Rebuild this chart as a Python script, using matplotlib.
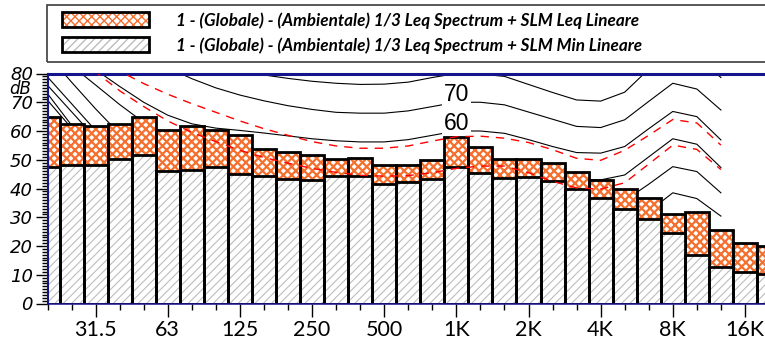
import numpy as np
import matplotlib.pyplot as plt
from matplotlib.patches import Patch, Rectangle
from matplotlib.legend_handler import HandlerTuple

# bande 1/3 di ottava
bands = ['20', '25', '31.5', '40', '50', '63', '80', '100', '125', '160', '200', '250',
         '315', '400', '500', '630', '800', '1K', '1.25K', '1.6K', '2K', '2.5K', '3.15K',
         '4K', '5K', '6.3K', '8K', '10K', '12.5K', '16K', '20K']
shown = ['31.5', '63', '125', '250', '500', '1K', '2K', '4K', '8K', '16K']

# spettri (dB)
leq = [64.7, 62.6, 61.7, 62.4, 64.7, 60.2, 61.6, 60.4, 58.6, 53.9, 52.6, 51.8, 50.1,
       50.7, 48.2, 48.3, 49.9, 57.8, 54.3, 50.2, 50.2, 48.9, 45.7, 42.8, 40.0, 36.7,
       31.2, 31.7, 25.4, 21.1, 19.9]
lmin = [47.5, 48.1, 48.3, 50.1, 51.8, 46.1, 46.5, 47.6, 45.0, 44.3, 43.4, 42.9, 44.2,
        44.5, 41.6, 42.4, 43.4, 47.6, 45.4, 43.7, 44.0, 42.7, 39.9, 36.6, 32.9, 29.3,
        24.5, 17.0, 12.6, 10.8, 10.3]

# curve isofoniche (20 Hz - 12.5 kHz)
phon_0 = [70.7, 61, 54, 47, 40, 34, 27.5, 21.5, 16.5, 12.5, 9.5, 7, 5, 3.5, 2.5, 1.5, 0.8,
          0, 0, -0.7, -2.2, -4.5, -6.5, -7, -4, 2, 8.5, 7, 1]
phon_10 = [73, 62, 56, 49.5, 42, 35, 29, 24, 20, 17, 15, 13.5, 12, 11, 10.5, 10, 10,
           10, 10, 9.3, 7.8, 5.5, 3.5, 3, 6, 12, 18.5, 17, 11]
phon_20 = [75.9, 66.7, 57.5, 50, 42.5, 36, 31, 27, 24, 22, 20.8, 19.8, 19, 18.5, 18.3,
           18.5, 19.2, 20, 20, 19.3, 17.8, 15.5, 13.5, 13, 16, 22, 28.5, 27, 21]
phon_30 = [78.8, 69.5, 60.2, 52, 45, 39.5, 35.5, 32.5, 30.5, 29.5, 28.8, 28.2, 27.8,
           27.5, 27.5, 28, 29, 30, 30, 29.3, 27.8, 25.5, 23.5, 23, 26, 32, 38.5, 36.5, 30.4]
phon_40 = [86.6, 77, 67.7, 59, 52, 47, 44, 42, 40.5, 39.5, 38.8, 38.2, 37.8, 37.5, 37.5,
           38, 39, 40, 40, 39.3, 37.8, 35.5, 33.5, 33, 35.8, 41.5, 47.6, 45.9, 38.5]
phon_50 = [89.5, 82.7, 76, 69.2, 63, 58.5, 55.5, 53.5, 52, 50.5, 49.3, 48.3, 47.5, 47,
           47, 47.8, 48.8, 50, 50, 49.3, 47.5, 45.3, 43.2, 43, 44.7, 51, 57.3, 55.4, 47.3]
phon_60 = [92, 87, 81.3, 75.5, 70, 65.5, 62.5, 61, 60.2, 59.3, 58.3, 57.3, 56.6, 56.2,
           56.2, 57, 58.5, 60, 60, 59.2, 57, 54.6, 52.5, 52.3, 54.6, 60.8, 66.8, 65, 56.9]
phon_70 = [100, 96, 92, 88.5, 85, 82, 78.2, 75, 72.5, 70.5, 68.8, 67.5, 66.5, 66.2, 66.2,
           67, 68.5, 70, 70, 69.1, 66.6, 64.1, 61.6, 61.2, 63.9, 70.3, 76.6, 74.6, 67.3]
phon_80 = [110, 106, 102, 98, 94, 90, 87, 84, 81.5, 79.5, 78.3, 77.3, 76.6, 76.2, 76.3,
           77, 78.6, 80, 79.8, 79, 76.2, 73.4, 70.8, 70.4, 73.5, 81.5, 87, 86, 78.6]
# isofoniche dello spettro (tratteggio rosso)
red_leq = [95, 90, 85.5, 80.8, 76.5, 72.8, 69.5, 66.5, 63.5, 60.8, 58.5, 56.3, 54.8, 54,
           54, 54.8, 56.5, 58, 58.2, 57.5, 56, 53.5, 50.5, 49.8, 53.3, 58.5, 64, 62.8, 55.1]
red_min = [95, 88, 80.5, 74, 68.5, 63.5, 59.5, 56.3, 53.3, 50.8, 48.8, 47, 45.6, 44.6,
           44.3, 44.5, 45.5, 47, 47.8, 47.8, 45.5, 42.5, 40.2, 39.8, 42, 48.5, 55.1, 53.6, 46.6]

navy = '#14148c'
orange = '#f5702e'
gray = '#bdbdbd'


def hatched(bars, lw):
    for b in bars:
        if hasattr(b, 'set_hatch_linewidth'):
            b.set_hatch_linewidth(lw)


fig = plt.figure(figsize=(7.65, 3.45), dpi=100)
ax = fig.add_axes([47.5 / 765, 41.5 / 345, 721.5 / 765, 230 / 345])

x = np.arange(len(bands))
xc = x[:len(phon_60)]

for c in [phon_0, phon_10, phon_20, phon_30, phon_40, phon_50, phon_60, phon_70, phon_80]:
    ax.plot(xc, c, color='black', lw=0.8, zorder=1)

ax.text(17, 72.6, '70', ha='center', va='center', fontsize=16.5, family='Liberation Sans',
        bbox=dict(fc='white', ec='none', pad=1.5), zorder=1.5)
ax.text(17, 62.6, '60', ha='center', va='center', fontsize=16.5, family='Liberation Sans',
        bbox=dict(fc='white', ec='none', pad=1.5), zorder=1.5)

with plt.rc_context({'hatch.linewidth': 1.6}):
    b1 = ax.bar(x, leq, width=1, color='white', edgecolor=orange, hatch='xxxx', lw=0, zorder=2)
    hatched(b1, 1.6)
ax.bar(x, leq, width=1, fill=False, edgecolor='black', lw=2, zorder=2.1)
with plt.rc_context({'hatch.linewidth': 0.8}):
    b2 = ax.bar(x, lmin, width=1, color='white', edgecolor=gray, hatch='////', lw=0, zorder=2.2)
    hatched(b2, 0.8)
ax.bar(x, lmin, width=1, fill=False, edgecolor='black', lw=2, zorder=2.3)

ax.plot(xc, red_leq, color='red', lw=1, ls=(0, (6, 5)), zorder=3)
ax.plot(xc, red_min, color='red', lw=1, ls=(0, (6, 5)), zorder=3)

ax.set_xlim(0, 30)
ax.set_ylim(0, 80)

ax.set_xticks([bands.index(b) for b in shown])
ax.set_xticklabels(shown, family='Lato', fontsize=15.5)
ax.set_xticks(x, minor=True)
ax.set_yticks(range(0, 81, 10))
ax.set_yticklabels([str(v) for v in range(0, 81, 10)], family='DejaVu Sans',
                   style='italic', fontsize=13)
ax.set_yticks(range(0, 81), minor=True)
ax.tick_params(axis='x', which='major', length=9, width=1, pad=3)
ax.tick_params(axis='x', which='minor', length=4, width=1)
ax.tick_params(axis='y', which='major', length=9, width=1, pad=1.5)
ax.tick_params(axis='y', which='minor', length=4, width=1)

ax.spines['right'].set_visible(False)
ax.spines['left'].set_color(navy)
ax.spines['left'].set_linewidth(1.5)
ax.spines['top'].set_color(navy)
ax.spines['top'].set_linewidth(2.2)
ax.spines['bottom'].set_color(navy)
ax.spines['bottom'].set_linewidth(1.1)

fig.text(20 / 765, 1 - 89 / 345, 'dB', ha='center', va='center', family='DejaVu Sans',
         style='italic', fontsize=12)

# legenda
fig.patches.append(Rectangle((47 / 765, 1 - 62 / 345), 1, 57 / 345, transform=fig.transFigure,
                             fill=False, ec='#3c3c3c', lw=1.2))
with plt.rc_context({'hatch.linewidth': 1.6}):
    hp1 = Patch(fc='white', ec=orange, hatch='xxxx', lw=0)
with plt.rc_context({'hatch.linewidth': 0.8}):
    hp2 = Patch(fc='white', ec=gray, hatch='////', lw=0)
h_leq = (hp1, Patch(fill=False, ec='black', lw=2))
h_min = (hp2, Patch(fill=False, ec='black', lw=2))
leg = fig.legend([h_leq, h_min],
                 ['1 - (Globale) - (Ambientale) 1/3 Leq Spectrum + SLM Leq Lineare',
                  '1 - (Globale) - (Ambientale) 1/3 Leq Spectrum + SLM Min Lineare'],
                 handler_map={tuple: HandlerTuple(ndivide=1)},
                 loc='upper left', bbox_to_anchor=(62 / 765, 1 - 12 / 345), frameon=False,
                 borderpad=0, borderaxespad=0, handlelength=5.1, handleheight=0.95,
                 handletextpad=1.55, labelspacing=0.5,
                 prop=dict(family='Lato', style='italic', weight='bold', size=12.3))

fig.savefig('out.png', dpi=100)
